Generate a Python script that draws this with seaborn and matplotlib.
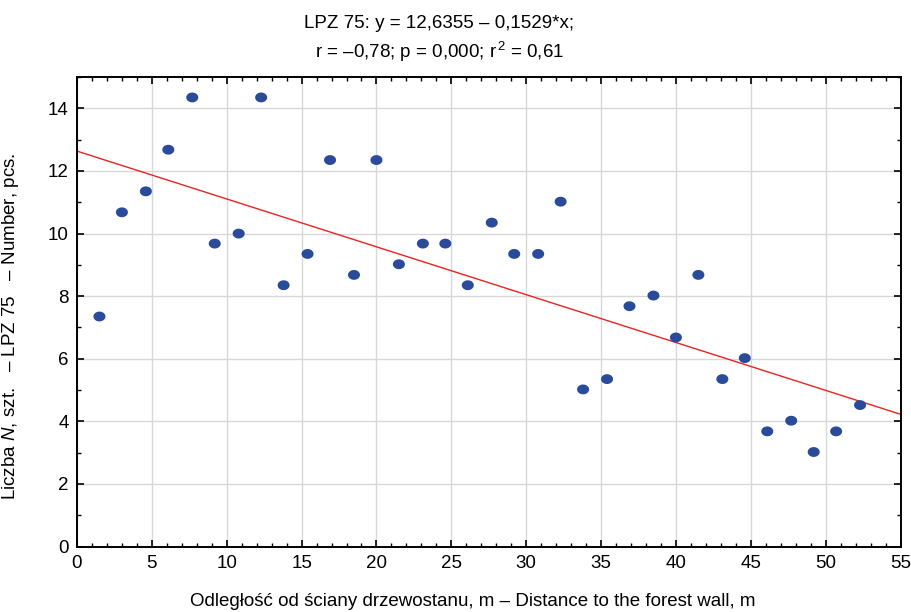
import numpy as np
import pandas as pd
import seaborn as sns
import matplotlib.pyplot as plt
from matplotlib.path import Path
from matplotlib.ticker import MultipleLocator

# distance to the forest wall (m) and LPZ 75 count
distance = [1.5, 3.0, 4.6, 6.1, 7.7, 9.2, 10.8, 12.3, 13.8, 15.4, 16.9, 18.5,
            20.0, 21.5, 23.1, 24.6, 26.1, 27.7, 29.2, 30.8, 32.3, 33.8, 35.4,
            36.9, 38.5, 40.0, 41.5, 43.1, 44.6, 46.1, 47.7, 49.2, 50.7, 52.3]
count = [7.35, 10.68, 11.35, 12.68, 14.35, 9.68, 10.0, 14.35, 8.35, 9.35,
         12.35, 8.68, 12.35, 9.02, 9.68, 9.68, 8.35, 10.35, 9.35, 9.35, 11.02,
         5.02, 5.35, 7.68, 8.02, 6.68, 8.68, 5.35, 6.02, 3.68, 4.02, 3.02,
         3.68, 4.52]

# fitted line from the chart header
intercept = 12.6355
slope = -0.1529
x_range = [0, 55]

title_line1 = "LPZ 75: y = 12,6355 – 0,1529*x;"
title_line2 = r"r = –0,78; p = 0,000; r$^{\,2}$ = 0,61"
xlabel = "Odległość od ściany drzewostanu, m – Distance to the forest wall, m"
ylabel = r"Liczba $\mathit{N}$, szt.   – LPZ 75   – Number, pcs."

sns.set_theme(style="whitegrid")
plt.rcParams['font.family'] = ['Liberation Sans', 'DejaVu Sans']
plt.rcParams['mathtext.fontset'] = 'custom'
plt.rcParams['mathtext.rm'] = 'Liberation Sans'
plt.rcParams['mathtext.it'] = 'Liberation Sans:italic'
plt.rcParams['text.color'] = 'black'
plt.rcParams['axes.labelcolor'] = 'black'
fs = 13.5

df = pd.DataFrame({"distance": distance, "count": count})
line_df = pd.DataFrame({"x": x_range,
                        "y": [intercept + slope * v for v in x_range]})

# slightly flattened dot like in the original
t = np.linspace(0, 2 * np.pi, 40)
ellipse = Path(np.column_stack([np.cos(t), 0.82 * np.sin(t)]), closed=True)

fig = plt.figure(figsize=(9.11, 6.12), dpi=100)
ax = fig.add_axes([0.0845, 0.107, 0.904, 0.767])

sns.lineplot(data=line_df, x="x", y="y", ax=ax, color="#e8231f", linewidth=1.0)
sns.scatterplot(data=df, x="distance", y="count", ax=ax, marker=ellipse,
                s=75, color="#2a4a9a", edgecolor="none", zorder=3)

ax.set_xlim(0, 55)
ax.set_ylim(0, 15)
ax.xaxis.set_major_locator(MultipleLocator(5))
ax.xaxis.set_minor_locator(MultipleLocator(1))
ax.yaxis.set_major_locator(MultipleLocator(2))
ax.yaxis.set_minor_locator(MultipleLocator(1))

ax.grid(True, which="major", color="#d8d8d8", linewidth=1.0)
ax.grid(False, which="minor")
for sp in ax.spines.values():
    sp.set_visible(True)
    sp.set_color("black")
    sp.set_linewidth(1.4)

ax.tick_params(which="both", direction="in", top=True, right=True,
               bottom=True, left=True, colors="black", labelcolor="black",
               labelsize=fs)
ax.tick_params(which="major", length=5, width=1.2, pad=6)
ax.tick_params(which="minor", length=3, width=1.0)

ax.set_xlabel(xlabel, fontsize=fs)
ax.set_ylabel(ylabel, fontsize=fs)
ax.xaxis.set_label_coords(0.481, -0.1)
ax.yaxis.set_label_coords(-0.068, 0.47)

fig.text(0.482, 0.975, title_line1 + "\n" + title_line2, ha="center",
         va="top", fontsize=fs, linespacing=1.4, multialignment="center")

fig.savefig("out.png", dpi=100)
